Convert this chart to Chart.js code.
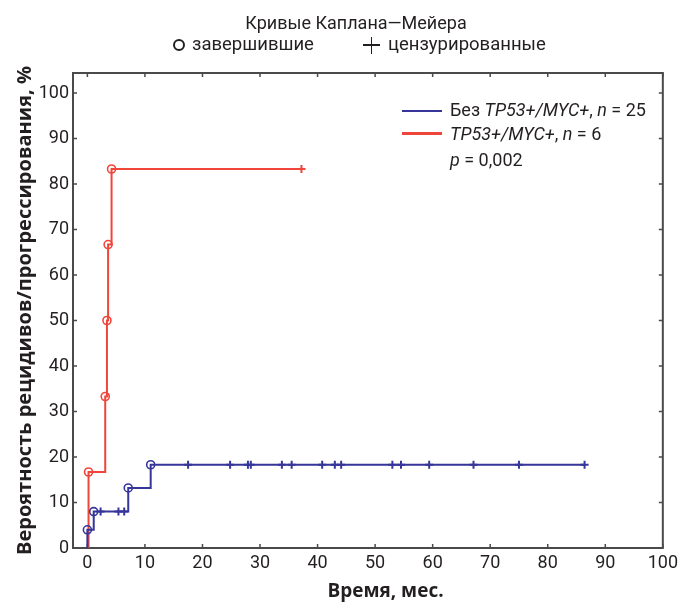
<!DOCTYPE html>
<html><head><meta charset="utf-8">
<script src="https://cdn.jsdelivr.net/npm/chart.js@4"></script>
<style>
html,body{margin:0;padding:0;background:#fff;}
#wrap{position:relative;width:683px;height:603px;font-family:Roboto,'Liberation Sans',sans-serif;color:#231f20;overflow:hidden;}
#c{position:absolute;left:0;top:0;}
.t{position:absolute;white-space:nowrap;font-size:18px;line-height:20px;}
.t2{font-size:18.5px;}
.xt{position:absolute;left:285.5px;width:200px;text-align:center;top:578px;font-family:'Open Sans',Roboto,sans-serif;font-weight:bold;font-size:19px;line-height:24px;white-space:nowrap;}
.circ{position:absolute;left:173px;top:38.5px;width:8px;height:8px;border:2.2px solid #231f20;border-radius:50%;}
.ph{position:absolute;left:363px;top:44px;width:17px;height:1.8px;background:#231f20;}
.pv{position:absolute;left:370.6px;top:36.5px;width:1.8px;height:17px;background:#231f20;}
.lg{position:absolute;left:402px;width:40px;height:2.5px;}
</style></head><body>
<div id="wrap">
<canvas id="c" width="683" height="603"></canvas>
<div class="t" style="left:0;width:712px;text-align:center;top:13px">Кривые Каплана—Мейера</div>
<div class="circ"></div>
<div class="t t2" style="left:192px;top:34px">завершившие</div>
<div class="ph"></div><div class="pv"></div>
<div class="t t2" style="left:388px;top:34px">цензурированные</div>
<div class="lg" style="top:109.5px;background:#35359a"></div>
<div class="lg" style="top:132px;background:#f0453a"></div>
<div class="t" style="left:450px;top:100px">Без <i>TP53+/MYC+</i>, <i>n</i> = 25</div>
<div class="t" style="left:450px;top:124px"><i>TP53+/MYC+</i>, <i>n</i> = 6</div>
<div class="t" style="left:450px;top:150px"><i>p</i> = 0,002</div>
<div class="xt">Время, мес.</div>
</div>
<script>
// ---- data ----
const xTickLabels = [0, 10, 20, 30, 40, 50, 60, 70, 80, 90, 100];
const yTickLabels = [0, 10, 20, 30, 40, 50, 60, 70, 80, 90, 100];
const seriesNames = ['Без TP53+/MYC+, n = 25', 'TP53+/MYC+, n = 6'];

const blueEventTimes  = [0, 1.1, 7.1, 11.0];
const blueEventValues = [4, 8, 13.2, 18.3];
const blueCensorTimes  = [2.3, 5.4, 6.4, 17.5, 24.8, 27.9, 28.4, 33.8, 35.5, 40.8, 43.0, 44.1, 53.0, 54.5, 59.4, 67.1, 75.0, 86.4];
const blueCensorValues = [8, 8, 8, 18.3, 18.3, 18.3, 18.3, 18.3, 18.3, 18.3, 18.3, 18.3, 18.3, 18.3, 18.3, 18.3, 18.3, 18.3];

const redEventTimes  = [0.2, 3.1, 3.4, 3.6, 4.2];
const redEventValues = [16.7, 33.3, 50, 66.7, 83.3];
const redCensorTimes  = [37.2];
const redCensorValues = [83.3];

const BLUE = '#35359a';
const RED = '#f0453a';
const INK = '#231f20';

function pts(xs, ys) { return xs.map((x, i) => ({x: x, y: ys[i]})); }
function stepLine(evT, evV, cT, cV) {
  const p = [{x: evT[0], y: 0}].concat(pts(evT, evV));
  p.push({x: cT[cT.length - 1], y: cV[cV.length - 1]});
  return p;
}

const framePlugin = {
  id: 'frame',
  beforeDatasetsDraw(chart) {
    const {ctx, chartArea: a, scales} = chart;
    ctx.save();
    ctx.strokeStyle = '#4a4a4a';
    ctx.lineWidth = 2;
    ctx.strokeRect(a.left, a.top, a.right - a.left, a.bottom - a.top);
    ctx.lineWidth = 1.5;
    ctx.beginPath();
    xTickLabels.forEach(v => {
      const px = scales.x.getPixelForValue(v);
      ctx.moveTo(px, a.bottom); ctx.lineTo(px, a.bottom - 4);
      ctx.moveTo(px, a.top); ctx.lineTo(px, a.top + 4);
    });
    yTickLabels.forEach(v => {
      const py = scales.y.getPixelForValue(v);
      ctx.moveTo(a.left, py); ctx.lineTo(a.left + 4, py);
      ctx.moveTo(a.right, py); ctx.lineTo(a.right - 4, py);
    });
    ctx.stroke();
    ctx.restore();
  }
};

const tickFont = {family: "Roboto, 'Liberation Sans', sans-serif", size: 18};
const yTitleFont = {family: "'Open Sans', Roboto, sans-serif", size: 20, weight: 'bold'};

new Chart(document.getElementById('c'), {
  type: 'scatter',
  data: {
    datasets: [
      {label: seriesNames[0] + ' events', data: pts(blueEventTimes, blueEventValues), pointStyle: 'circle', pointRadius: 4, borderColor: BLUE, backgroundColor: 'rgba(0,0,0,0)', pointBorderWidth: 1.6, order: 0},
      {label: seriesNames[0] + ' censored', data: pts(blueCensorTimes, blueCensorValues), pointStyle: 'cross', pointRadius: 4, borderColor: BLUE, pointBorderWidth: 2, order: 0},
      {label: seriesNames[1] + ' events', data: pts(redEventTimes, redEventValues), pointStyle: 'circle', pointRadius: 4, borderColor: RED, backgroundColor: 'rgba(0,0,0,0)', pointBorderWidth: 1.6, order: 0},
      {label: seriesNames[1] + ' censored', data: pts(redCensorTimes, redCensorValues), pointStyle: 'cross', pointRadius: 4, borderColor: RED, pointBorderWidth: 2, order: 0},
      {label: seriesNames[0], data: stepLine(blueEventTimes, blueEventValues, blueCensorTimes, blueCensorValues), showLine: true, stepped: true, pointRadius: 0, borderColor: BLUE, borderWidth: 2, fill: false, order: 1},
      {label: seriesNames[1], data: stepLine(redEventTimes, redEventValues, redCensorTimes, redCensorValues), showLine: true, stepped: true, pointRadius: 0, borderColor: RED, borderWidth: 2, fill: false, order: 1}
    ]
  },
  options: {
    responsive: false,
    animation: false,
    layout: {padding: {left: 0, top: 73, right: 16, bottom: 0}},
    plugins: {legend: {display: false}, tooltip: {enabled: false}, title: {display: false}},
    scales: {
      x: {
        type: 'linear', min: -2.5, max: 100,
        afterBuildTicks: s => { s.ticks = xTickLabels.map(v => ({value: v})); },
        afterFit: s => { s.height = 55; },
        grid: {display: false, drawTicks: false},
        border: {display: false},
        ticks: {font: tickFont, color: INK, padding: 5, maxRotation: 0, autoSkip: false},
        title: {display: false}
      },
      y: {
        type: 'linear', min: 0, max: 104.4,
        afterBuildTicks: s => { s.ticks = yTickLabels.map(v => ({value: v})); },
        afterFit: s => { s.width = 73; },
        grid: {display: false, drawTicks: false},
        border: {display: false},
        ticks: {font: tickFont, color: INK, padding: 4, autoSkip: false},
        title: {display: true, text: 'Вероятность рецидивов/прогрессирования, %', font: yTitleFont, color: INK, padding: {top: 13, bottom: 0}}
      }
    }
  },
  plugins: [framePlugin]
});
</script>
</body></html>
